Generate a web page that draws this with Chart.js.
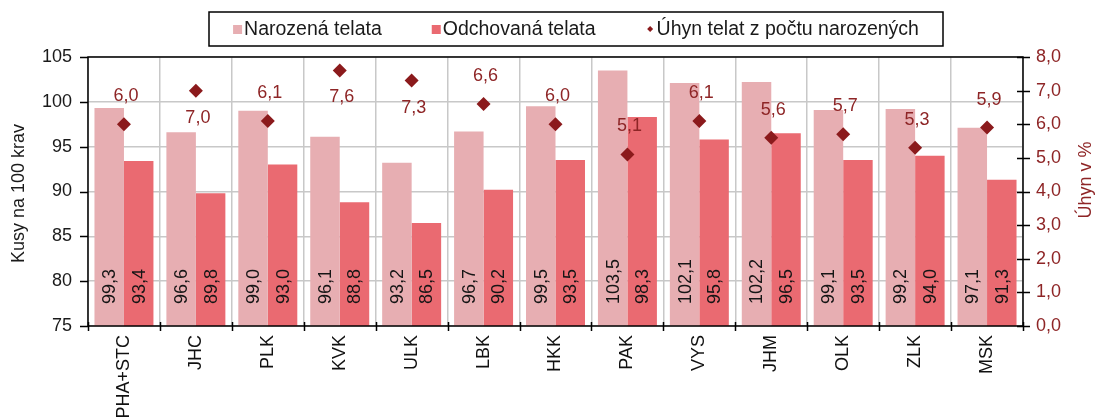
<!DOCTYPE html>
<html>
<head>
<meta charset="utf-8">
<script src="https://cdn.jsdelivr.net/npm/chart.js@4"></script>
<style>
  body { margin: 0; background: #fff; }
  #wrap { width: 1102px; height: 419px; }
</style>
</head>
<body>
<div id="wrap"><canvas id="c" width="1102" height="419"></canvas></div>
<script>
const regions = ["PHA+STC", "JHC", "PLK", "KVK", "ULK", "LBK", "HKK", "PAK", "VYS", "JHM", "OLK", "ZLK", "MSK"];
const born = [99.3, 96.6, 99.0, 96.1, 93.2, 96.7, 99.5, 103.5, 102.1, 102.2, 99.1, 99.2, 97.1];
const reared = [93.4, 89.8, 93.0, 88.8, 86.5, 90.2, 93.5, 98.3, 95.8, 96.5, 93.5, 94.0, 91.3];
const loss = [6.0, 7.0, 6.1, 7.6, 7.3, 6.6, 6.0, 5.1, 6.1, 5.6, 5.7, 5.3, 5.9];
const seriesNames = ["Narozená telata", "Odchovaná telata", "Úhyn telat z počtu narozených"];

const FONT = "'Liberation Sans', Arial, sans-serif";
const LIGHT = "#E7AEB2";
const DARK = "#EA6A71";
const MARK = "#8B1A1C";
const RED_TEXT = "#8E2526";

const comma = (v) => v.toFixed(1).replace(".", ",");

const decor = {
  id: "decor",
  afterDraw(chart) {
    const { ctx, chartArea: a, scales } = chart;
    ctx.save();

    // frame and tick marks
    ctx.strokeStyle = "#000";
    ctx.lineWidth = 1.5;
    ctx.strokeRect(a.left, a.top, a.right - a.left, a.bottom - a.top);
    ctx.beginPath();
    scales.y.ticks.forEach((t) => {
      const y = Math.round(scales.y.getPixelForValue(t.value)) + 0.5;
      ctx.moveTo(a.left - 8, y);
      ctx.lineTo(a.left, y);
    });
    scales.y2.ticks.forEach((t) => {
      const y = Math.round(scales.y2.getPixelForValue(t.value)) + 0.5;
      ctx.moveTo(a.right - 6, y);
      ctx.lineTo(a.right + 7, y);
    });
    const step = (a.right - a.left) / regions.length;
    for (let i = 0; i <= regions.length; i += 1) {
      const x = Math.round(a.left + i * step) + 0.5;
      ctx.moveTo(x, a.bottom - 4);
      ctx.lineTo(x, a.bottom + 5);
    }
    ctx.stroke();

    // bar value labels
    ctx.font = "18px " + FONT;
    ctx.fillStyle = "#151515";
    ctx.textAlign = "left";
    ctx.textBaseline = "middle";
    [0, 1].forEach((d) => {
      chart.getDatasetMeta(d).data.forEach((bar, i) => {
        const v = chart.data.datasets[d].data[i];
        ctx.save();
        ctx.translate(bar.x + 1, a.bottom - 22);
        ctx.rotate(-Math.PI / 2);
        ctx.fillText(comma(v), 0, 0);
        ctx.restore();
      });
    });

    // loss labels
    ctx.fillStyle = RED_TEXT;
    ctx.textAlign = "center";
    chart.getDatasetMeta(2).data.forEach((pt, i) => {
      const v = loss[i];
      const dy = v >= 7 ? 27 : -28;
      ctx.fillText(comma(v), pt.x + 2, pt.y + dy);
    });

    // axis titles
    ctx.fillStyle = "#1a1a1a";
    ctx.save();
    ctx.translate(19, (a.top + a.bottom) / 2 + 2);
    ctx.rotate(-Math.PI / 2);
    ctx.fillText("Kusy na 100 krav", 0, 0);
    ctx.restore();
    ctx.fillStyle = RED_TEXT;
    ctx.save();
    ctx.translate(1086, 180);
    ctx.rotate(-Math.PI / 2);
    ctx.fillText("Úhyn v %", 0, 0);
    ctx.restore();

    // legend
    ctx.font = "19.5px " + FONT;
    const box = { l: 209, t: 12, r: 943, b: 46 };
    ctx.strokeStyle = "#000";
    ctx.lineWidth = 1.5;
    ctx.strokeRect(box.l, box.t, box.r - box.l, box.b - box.t);
    const gap = 50;
    const widths = seriesNames.map((s) => 11 + ctx.measureText(s).width);
    const total = widths.reduce((s, w) => s + w, 0) + gap * (widths.length - 1);
    let x = (box.l + box.r) / 2 - total / 2;
    const cy = (box.t + box.b) / 2;
    const colors = [LIGHT, DARK, MARK];
    seriesNames.forEach((name, i) => {
      ctx.fillStyle = colors[i];
      if (i < 2) {
        ctx.fillRect(x, cy - 4, 9, 9);
      } else {
        ctx.beginPath();
        ctx.moveTo(x + 4.5, cy - 3);
        ctx.lineTo(x + 7.5, cy);
        ctx.lineTo(x + 4.5, cy + 3);
        ctx.lineTo(x + 1.5, cy);
        ctx.closePath();
        ctx.fill();
      }
      ctx.fillStyle = "#1a1a1a";
      ctx.textAlign = "left";
      ctx.fillText(name, x + 11, cy + 1);
      x += widths[i] + gap;
    });

    ctx.restore();
  }
};

Chart.defaults.font.family = FONT;
Chart.defaults.font.size = 18;

new Chart(document.getElementById("c"), {
  type: "bar",
  data: {
    labels: regions,
    datasets: [
      { label: seriesNames[0], data: born, backgroundColor: LIGHT, yAxisID: "y", order: 2 },
      { label: seriesNames[1], data: reared, backgroundColor: DARK, yAxisID: "y", order: 2 },
      {
        type: "line", label: seriesNames[2], data: loss, yAxisID: "y2", order: 1,
        showLine: false, pointStyle: "rectRot", pointRadius: 7,
        backgroundColor: MARK, borderColor: MARK, borderWidth: 0
      }
    ]
  },
  options: {
    responsive: false,
    animation: false,
    layout: { padding: { top: 57, left: 0, right: 0, bottom: 0 } },
    datasets: { bar: { categoryPercentage: 0.82, barPercentage: 1.0 } },
    plugins: { legend: { display: false }, tooltip: { enabled: false } },
    scales: {
      x: {
        grid: { offset: true, color: "#c8c8c8", lineWidth: 1.5, drawTicks: false },
        border: { display: false },
        ticks: { autoSkip: false, minRotation: 90, maxRotation: 90, padding: 9, color: "#111" },
        afterFit: (s) => { s.height = 93; }
      },
      y: {
        position: "left",
        min: 75, max: 105,
        grid: { color: "#c8c8c8", lineWidth: 1.5, drawTicks: false },
        border: { display: false },
        ticks: { stepSize: 5, padding: 16, color: "#1a1a1a" },
        afterFit: (s) => { s.width = 88; }
      },
      y2: {
        position: "right",
        min: 0, max: 8,
        grid: { display: false, drawTicks: false },
        border: { display: false },
        ticks: { stepSize: 1, padding: 13, color: RED_TEXT, callback: (v) => comma(v) },
        afterFit: (s) => { s.width = 79; }
      }
    }
  },
  plugins: [decor]
});
</script>
</body>
</html>
